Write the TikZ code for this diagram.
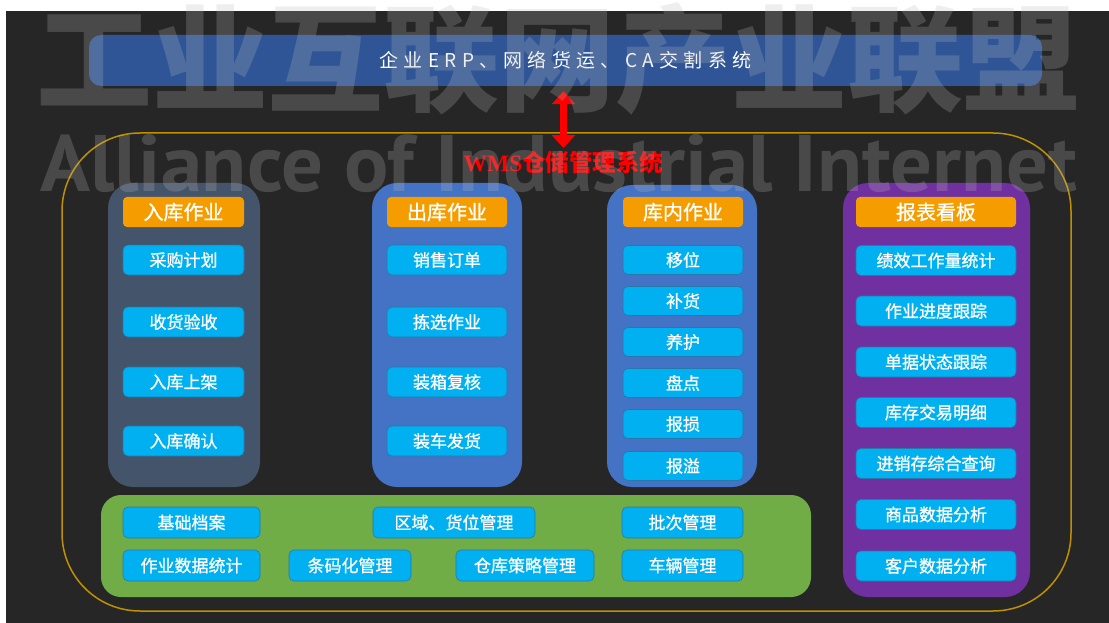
\documentclass[tikz,border=0pt]{standalone}
\usepackage{fontspec}
\setmainfont{Noto Sans CJK SC}
\newfontfamily\boxfont{Noto Sans CJK SC}[FakeBold=1]
\newfontfamily\wmsfont{Liberation Serif}
\newfontfamily\markfont{PT Sans}
\usepackage{graphicx}
\usepackage{xcolor}
\usetikzlibrary{arrows,arrows.meta,positioning,shapes,calc}

\definecolor{bgdark}{RGB}{38,38,38}
\definecolor{barblue}{RGB}{47,85,151}
\definecolor{slatepanel}{RGB}{68,84,106}
\definecolor{bluepanel}{RGB}{68,114,196}
\definecolor{purplepanel}{RGB}{112,48,160}
\definecolor{greenpanel}{RGB}{112,173,71}
\definecolor{headorange}{RGB}{245,157,0}
\definecolor{itemcyan}{RGB}{0,176,240}
\definecolor{itemedge}{RGB}{40,120,170}
\definecolor{goldline}{RGB}{191,144,0}
\definecolor{markgray}{RGB}{188,188,188}

\tikzset{
  panel/.style={rounded corners=25pt, inner sep=0pt},
  head/.style={fill=headorange, rounded corners=4pt, minimum height=30pt, inner sep=0pt,
    text=white, font=\boxfont\fontsize{20}{24}\selectfont},
  item/.style={fill=itemcyan, draw=itemedge, line width=.6pt, rounded corners=5pt,
    minimum height=30pt, inner sep=0pt, text=white, font=\boxfont\fontsize{17}{20}\selectfont},
  watermark/.style={text=markgray, text opacity=.24, inner sep=0pt}
}

\begin{document}
\begin{tikzpicture}[x = 1pt, y = -1pt]
\useasboundingbox (0,0) rectangle (1109,623);
\fill[white] (0,0) rectangle (1109,623);
\fill[bgdark] (6,11) rectangle (1109,623);

% outer system frame and top bar
\node[draw=goldline, line width=1.5pt, rounded corners=78pt, minimum width=1009pt, minimum height=478pt, inner sep=0pt] (wms) at (566.5,372) {};
\node[fill=barblue, rounded corners=12pt, minimum width=953pt, minimum height=51pt, inner sep=0pt, text=white,
  font=\fontsize{19}{22}\selectfont\addfontfeatures{LetterSpace=28}] (erp) at (565.5,60.5) {企业ERP、网络货运、CA交割系统};
\node[text=red, font=\bfseries\fontsize{23.5}{26}\selectfont] (wmstitle) at (563.5,163) {{\wmsfont WMS}仓储管理系统};
\draw[{Triangle[width=23pt,length=13pt]}-{Triangle[width=23pt,length=13pt]}, red, line width=7pt, shorten <=5pt] (erp.south -| wmstitle) -- (wmstitle.north);

% panels
\node[panel, fill=slatepanel, minimum width=152pt, minimum height=304pt] (inbg) at (184,335) {};
\node[panel, fill=bluepanel, minimum width=150pt, minimum height=304pt] (outbg) at (447,335) {};
\node[panel, fill=bluepanel, minimum width=150pt, minimum height=302pt] (stockbg) at (682,336) {};
\node[panel, fill=purplepanel, minimum width=187pt, minimum height=414pt] (reportbg) at (936.5,390) {};
\node[panel, rounded corners=20pt, fill=greenpanel, minimum width=710pt, minimum height=102pt] (basebg) at (456,546) {};

% inbound
\node[head, minimum width=121pt] (inhead) at (183.5,212) {入库作业};
\node[item, minimum width=121pt] (in1) at (183.5,260) {采购计划};
\node[item, minimum width=121pt] (in2) at (183.5,322) {收货验收};
\node[item, minimum width=121pt] (in3) at (183.5,382) {入库上架};
\node[item, minimum width=121pt] (in4) at (183.5,441) {入库确认};

% outbound
\node[head, minimum width=120pt] (outhead) at (447,212) {出库作业};
\node[item, minimum width=120pt] (out1) at (447,260) {销售订单};
\node[item, minimum width=120pt] (out2) at (447,322) {拣选作业};
\node[item, minimum width=120pt] (out3) at (447,382) {装箱复核};
\node[item, minimum width=120pt] (out4) at (447,441) {装车发货};

% in-stock
\node[head, minimum width=120pt] (stockhead) at (683,212) {库内作业};
\node[item, minimum width=120pt, minimum height=29pt] (stock1) at (683,260) {移位};
\node[item, minimum width=120pt, minimum height=29pt] (stock2) at (683,301) {补货};
\node[item, minimum width=120pt, minimum height=29pt] (stock3) at (683,342) {养护};
\node[item, minimum width=120pt, minimum height=29pt] (stock4) at (683,383) {盘点};
\node[item, minimum width=120pt, minimum height=29pt] (stock5) at (683,424) {报损};
\node[item, minimum width=120pt, minimum height=29pt] (stock6) at (683,466) {报溢};

% reports
\node[head, minimum width=160pt] (reporthead) at (936,212) {报表看板};
\node[item, minimum width=160pt] (report1) at (936,260.5) {绩效工作量统计};
\node[item, minimum width=160pt] (report2) at (936,311) {作业进度跟踪};
\node[item, minimum width=160pt] (report3) at (936,362) {单据状态跟踪};
\node[item, minimum width=160pt] (report4) at (936,412.5) {库存交易明细};
\node[item, minimum width=160pt] (report5) at (936,463.5) {进销存综合查询};
\node[item, minimum width=160pt] (report6) at (936,514.5) {商品数据分析};
\node[item, minimum width=160pt] (report7) at (936,566) {客户数据分析};

% base data
\node[item, minimum width=137pt, minimum height=31pt] (base1) at (191.5,522.5) {基础档案};
\node[item, minimum width=162pt, minimum height=31pt] (base2) at (454,522.5) {区域、货位管理};
\node[item, minimum width=121pt, minimum height=31pt] (base3) at (682.5,522.5) {批次管理};
\node[item, minimum width=137pt, minimum height=31pt] (base4) at (191.5,565.5) {作业数据统计};
\node[item, minimum width=122pt, minimum height=31pt] (base5) at (350,565.5) {条码化管理};
\node[item, minimum width=138pt, minimum height=31pt] (base6) at (525,565.5) {仓库策略管理};
\node[item, minimum width=121pt, minimum height=31pt] (base7) at (682.5,565.5) {车辆管理};

% watermark
\node[watermark, font=\bfseries\fontsize{116}{120}\selectfont] (markcn) at (558,59) {工业互联网产业联盟};
\node[watermark, anchor=base west] (marken) at (40,192) {\resizebox{1037pt}{57pt}{\markfont\bfseries Alliance of Industrial Internet}};
\end{tikzpicture}
\end{document}
